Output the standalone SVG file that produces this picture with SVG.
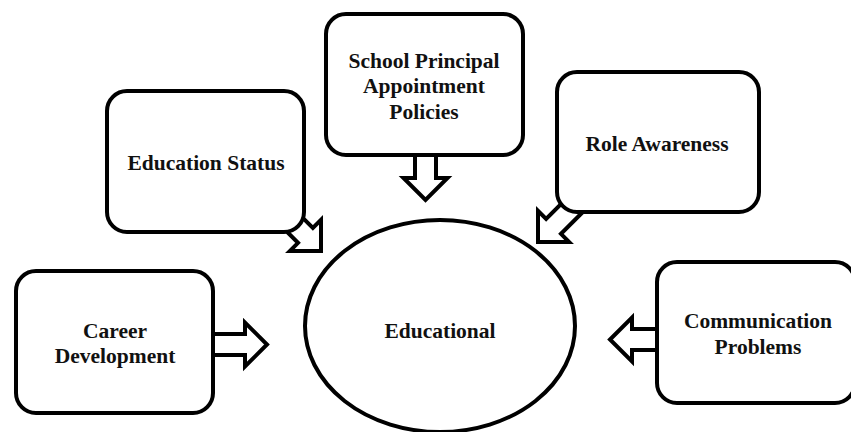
<svg xmlns="http://www.w3.org/2000/svg" width="851" height="432" viewBox="0 0 851 432">
<style>
.box{fill:#fff;stroke:#000;stroke-width:4}
.arr{fill:#fff;stroke:#000;stroke-width:4;stroke-linejoin:miter}
.t{font-family:"Liberation Serif","Times New Roman",serif;font-weight:bold;font-size:21.5px;fill:#111;text-anchor:middle}
</style>
<defs>
<polygon id="ah" points="-60,-10.5 -22,-10.5 -22,-22 0,0 -22,22 -22,10.5 -60,10.5"/>
</defs>
<g id="connectors">
<use href="#ah" class="arr" transform="translate(321,251) rotate(45)"/>
<use href="#ah" class="arr" transform="translate(538,242) rotate(135)"/>
<use href="#ah" class="arr" transform="translate(425.5,200) rotate(90)"/>
<use href="#ah" class="arr" transform="translate(267,344.5)"/>
<use href="#ah" class="arr" transform="translate(610,339.5) rotate(180)"/>
</g>
<g id="node-education-status">
<rect class="box" x="107" y="91" width="197" height="141" rx="20"/>
<text class="t" x="206" y="170">Education Status</text>
</g>
<g id="node-school-principal">
<rect class="box" x="326" y="14" width="197" height="141" rx="20"/>
<text class="t" x="424" y="68">School Principal</text>
<text class="t" x="424" y="93">Appointment</text>
<text class="t" x="424" y="119">Policies</text>
</g>
<g id="node-role-awareness">
<rect class="box" x="557" y="72" width="202" height="140" rx="20"/>
<text class="t" x="657" y="151">Role Awareness</text>
</g>
<g id="node-career-development">
<rect class="box" x="16" y="271" width="197" height="142" rx="20"/>
<text class="t" x="115" y="338">Career</text>
<text class="t" x="115" y="363">Development</text>
</g>
<g id="node-communication">
<rect class="box" x="657" y="262" width="198" height="141" rx="20"/>
<text class="t" x="758" y="328">Communication</text>
<text class="t" x="758" y="354">Problems</text>
</g>
<g id="node-educational">
<ellipse class="box" cx="440" cy="326" rx="135" ry="106"/>
<text class="t" x="440" y="338">Educational</text>
</g>
</svg>
